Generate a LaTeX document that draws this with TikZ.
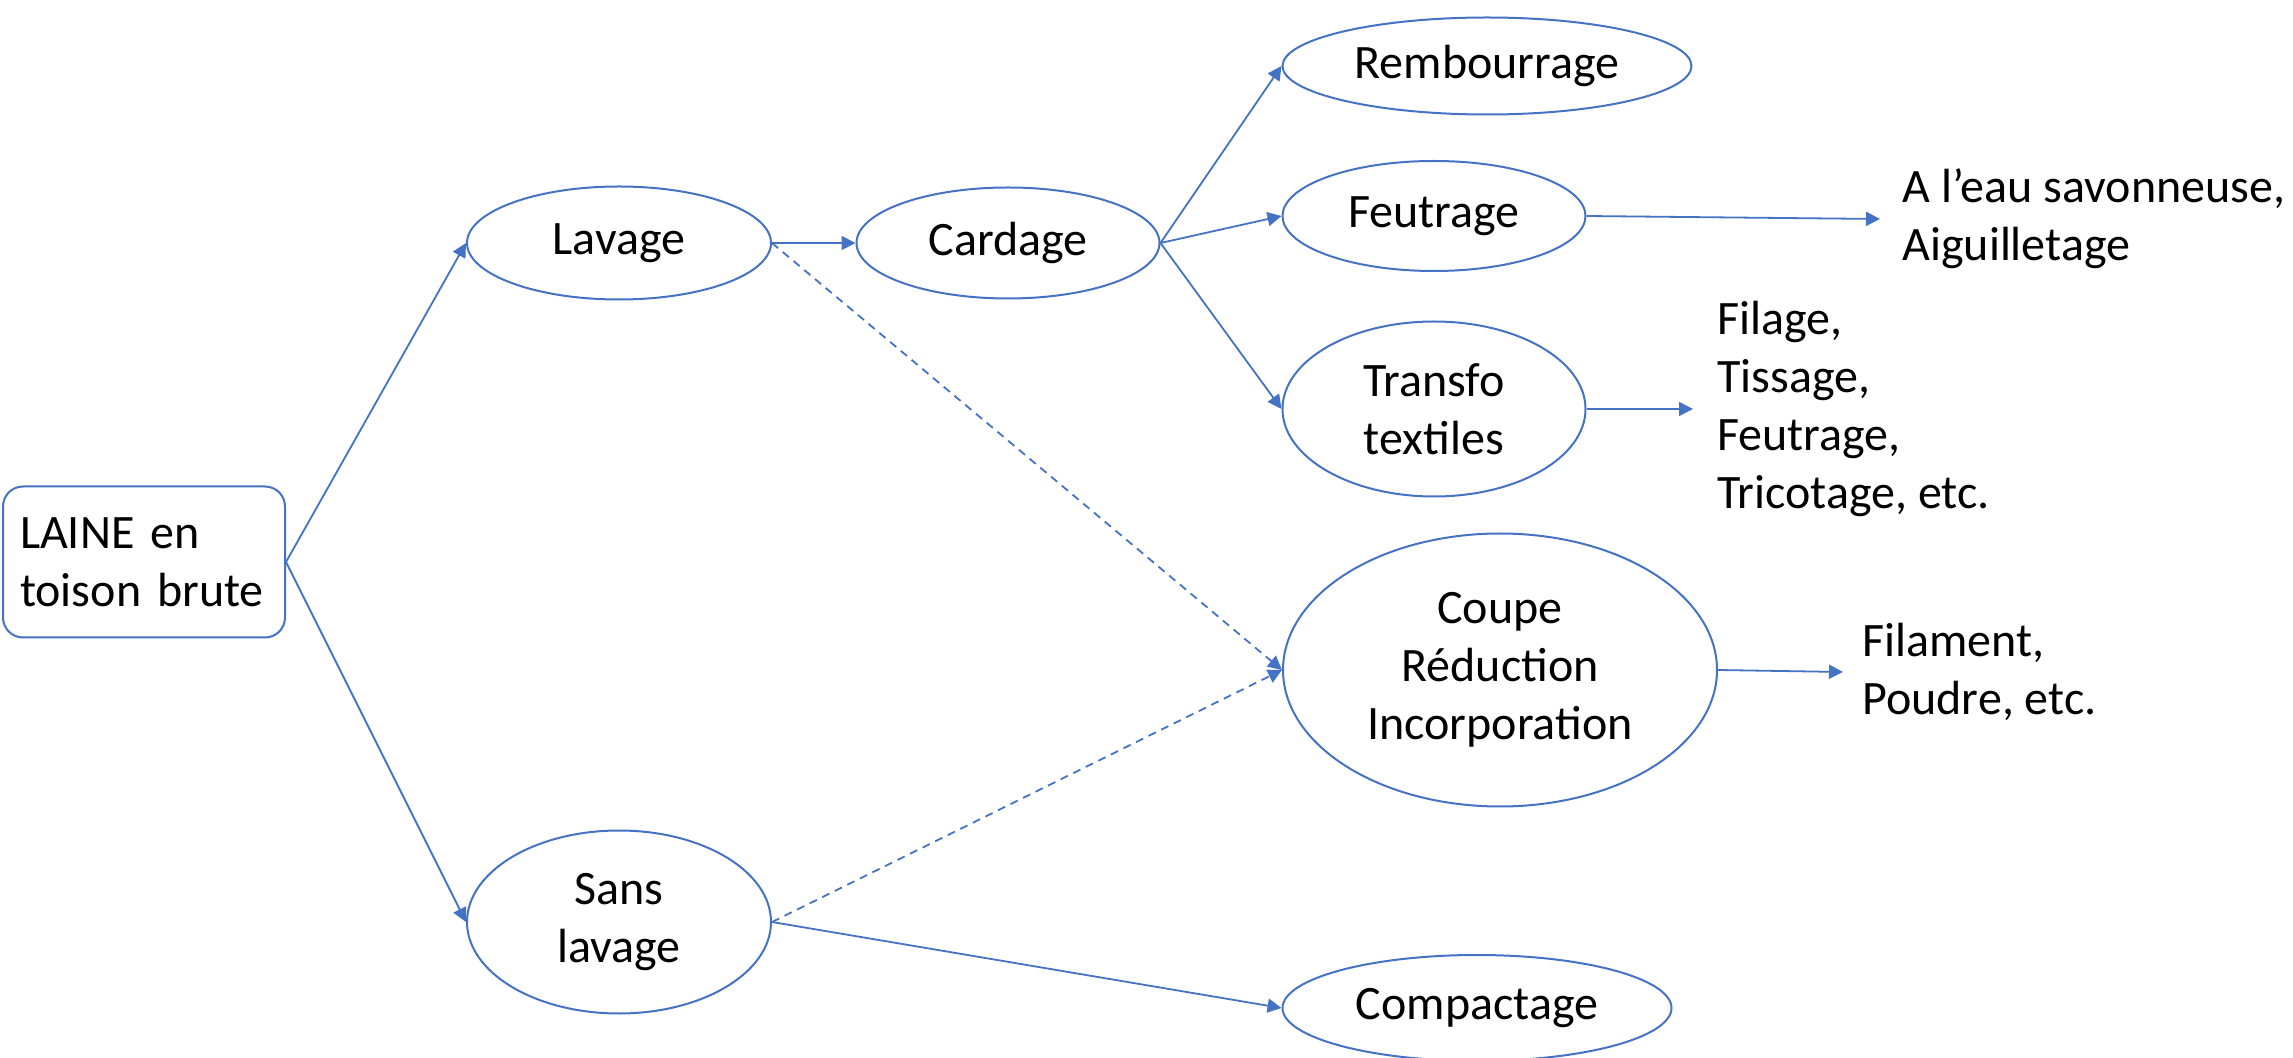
\documentclass[tikz,border=0pt]{standalone}
\usepackage{fontspec}
\setmainfont{Carlito}
\usetikzlibrary{arrows.meta,shapes.geometric}
\definecolor{offblue}{HTML}{4472C4}

\begin{document}
\begin{tikzpicture}[x=0.5pt,y=-0.5pt,>={Triangle[length=7pt,width=7pt]},
  font=\fontsize{24}{29}\selectfont,
  proc/.style={ellipse,draw=offblue,line width=1pt,inner sep=0pt,align=center},
  lbl/.style={anchor=west,align=left,inner ysep=0pt},
  link/.style={->,draw=offblue,line width=0.9pt},
  maybe/.style={link,dash pattern=on 4pt off 3pt}]
\useasboundingbox (0,0) rectangle (2293,1058);
\node[draw=offblue,line width=1pt,rounded corners=10pt,minimum width=141pt,minimum height=75.5pt,
  text width=124pt,inner xsep=8.5pt,align=left] (laine) at (144,562) {LAINE en\\toison brute};
\node[proc,minimum width=152pt,minimum height=56.5pt] (lavage) at (619,243) {Lavage};
\node[proc,minimum width=152pt,minimum height=91.5pt] (sans) at (619,922) {Sans\\lavage};
\node[proc,minimum width=151.5pt,minimum height=55.5pt] (cardage) at (1008,243) {Cardage};
\node[proc,minimum width=204.5pt,minimum height=48.5pt] (rembour) at (1487,66) {Rembourrage};
\node[proc,minimum width=151.5pt,minimum height=55pt] (feutrage) at (1434,216) {Feutrage};
\node[proc,minimum width=151.5pt,minimum height=87.5pt] (transfo) at (1434,409) {Transfo\\textiles};
\node[proc,minimum width=217pt,minimum height=136.5pt] (coupe) at (1500,670) {Coupe\\Réduction\\Incorporation};
\node[proc,minimum width=194.5pt,minimum height=53pt] (compact) at (1477,1008) {Compactage};
\node[lbl,inner xsep=11pt] (savon) at (1880,219) {A l’eau savonneuse,\\Aiguilletage};
\node[lbl,inner xsep=12pt] (textil) at (1693,409) {Filage,\\Tissage,\\Feutrage,\\Tricotage, etc.};
\node[lbl,inner xsep=9.5pt] (filament) at (1843,672) {Filament,\\Poudre, etc.};
\draw[link] (laine.east) -- (lavage.west);
\draw[link] (laine.east) -- (sans.west);
\draw[link] (lavage.east) -- (cardage.west);
\draw[maybe] (lavage.east) -- (coupe.west);
\draw[maybe] (sans.east) -- (coupe.west);
\draw[link] (sans.east) -- (compact.west);
\draw[link] (cardage.east) -- (rembour.west);
\draw[link] (cardage.east) -- (feutrage.west);
\draw[link] (cardage.east) -- (transfo.west);
\draw[link] (feutrage.east) -- (savon.west);
\draw[link] (transfo.east) -- (textil.west);
\draw[link] (coupe.east) -- (filament.west);
\end{tikzpicture}
\end{document}
